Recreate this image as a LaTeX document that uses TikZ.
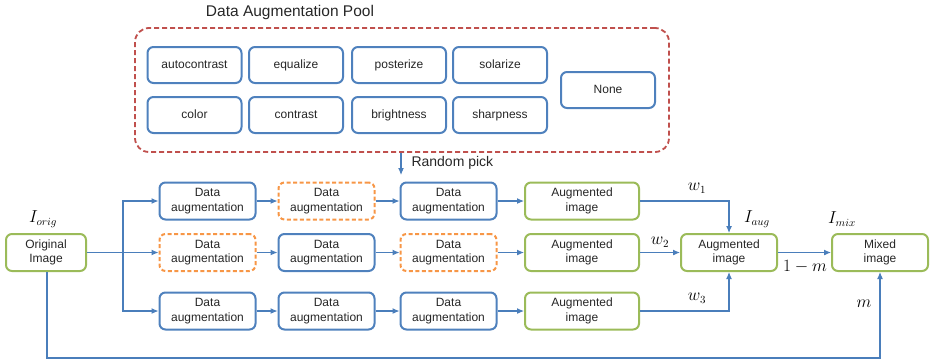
\documentclass[tikz,border=0pt]{standalone}
\usepackage{fontspec}
\setmainfont{Liberation Sans}
\usetikzlibrary{arrows.meta}
\definecolor{cblue}{HTML}{4F81BD}
\definecolor{cgreen}{HTML}{9BBB59}
\definecolor{corange}{HTML}{F79646}
\definecolor{cred}{HTML}{C0504D}
\definecolor{cline}{HTML}{4A7EBB}
\begin{document}
\begin{tikzpicture}[x=1pt,y=-1pt,
  box/.style={rounded corners=6pt,line width=2pt,align=center,font=\fontsize{12}{14.5}\selectfont,inner sep=0pt,text=black!85},
  bluebox/.style={box,draw=cblue},
  greenbox/.style={box,draw=cgreen},
  orangebox/.style={box,draw=corange,dash pattern=on 4pt off 2.5pt},
  poolbox/.style={bluebox,minimum width=94pt,minimum height=36pt,text height=1.6ex,text depth=0.4ex},
  dabox/.style={minimum width=96pt,minimum height=37pt},
  conn/.style={draw=cline,line width=1.1pt,-{Latex[length=7pt,width=6pt]}},
  plain/.style={draw=cline,line width=1.1pt},
  mathlbl/.style={font=\fontsize{16}{18}\selectfont}
]
\useasboundingbox (0,0) rectangle (936,362);
% pool
\node[draw=cred,line width=1.8pt,dash pattern=on 5pt off 3pt,rounded corners=14pt,minimum width=534pt,minimum height=124pt,inner sep=0pt] (pool) at (402,90) {};
\node[font=\fontsize{15.5}{17}\selectfont,text=black!85] (pooltitle) at (290,12) {Data Augmentation Pool};
\node[poolbox] (p1) at (194.5,65) {autocontrast};
\node[poolbox] (p2) at (296,65) {equalize};
\node[poolbox] (p3) at (399,65) {posterize};
\node[poolbox] (p4) at (500,65) {solarize};
\node[poolbox] (p5) at (194.5,115) {color};
\node[poolbox] (p6) at (296,115) {contrast};
\node[poolbox] (p7) at (399,115) {brightness};
\node[poolbox] (p8) at (500,115) {sharpness};
\node[poolbox] (p9) at (608,90) {None};
\coordinate (pick) at (401,175);
\draw[conn] (pool.south -| pick) -- (pick);
\node[anchor=west,font=\fontsize{14}{16}\selectfont,text=black!85] (picklbl) at (408,163) {Random pick};
% main
\node[greenbox,minimum width=80pt,minimum height=37pt] (orig) at (46,252.5) {Original\\Image};
\node[bluebox,dabox] (a11) at (207.5,201) {Data\\augmentation};
\node[orangebox,dabox] (a12) at (326.5,201) {Data\\augmentation};
\node[bluebox,dabox] (a13) at (448.5,201) {Data\\augmentation};
\node[orangebox,dabox] (a21) at (207.5,252.5) {Data\\augmentation};
\node[bluebox,dabox] (a22) at (326.5,252.5) {Data\\augmentation};
\node[orangebox,dabox] (a23) at (448.5,252.5) {Data\\augmentation};
\node[bluebox,dabox] (a31) at (207.5,311) {Data\\augmentation};
\node[bluebox,dabox] (a32) at (326.5,311) {Data\\augmentation};
\node[bluebox,dabox] (a33) at (448.5,311) {Data\\augmentation};
\node[greenbox,minimum width=114pt,minimum height=37pt] (g1) at (582,201) {Augmented\\image};
\node[greenbox,minimum width=114pt,minimum height=37pt] (g2) at (582,252.5) {Augmented\\image};
\node[greenbox,minimum width=114pt,minimum height=37pt] (g3) at (582,311) {Augmented\\image};
\node[greenbox,minimum width=96pt,minimum height=37pt] (aug) at (729,252.5) {Augmented\\image};
\node[greenbox,minimum width=96pt,minimum height=37pt] (mix) at (880,252.5) {Mixed\\image};
% fork
\coordinate (fork) at (123,252.5);
\draw[plain] (orig.east) -- (fork);
\draw[conn] (orig.east) -- (a21.west);
\draw[conn] (fork) |- (a11.west);
\draw[conn] (fork) |- (a31.west);
% rows
\draw[conn] (a11) -- (a12);
\draw[conn] (a12) -- (a13);
\draw[conn] (a13) -- (g1);
\draw[conn] (a21) -- (a22);
\draw[conn] (a22) -- (a23);
\draw[conn] (a23) -- (g2);
\draw[conn] (a31) -- (a32);
\draw[conn] (a32) -- (a33);
\draw[conn] (a33) -- (g3);
% merge
\draw[conn] (g1.east) -| (aug.north);
\draw[conn] (g2.east) -- (aug.west);
\draw[conn] (g3.east) -| (aug.south);
\draw[conn] (aug.east) -- (mix.west);
\coordinate (bl) at (47,358);
\draw[conn] (orig.south -| bl) -- (bl) -| (mix.south);
% labels
\node[mathlbl] (lorig) at (43,219) {$I_{orig}$};
\node[mathlbl] (lw1) at (697,188) {$w_1$};
\node[mathlbl] (lw2) at (660,242) {$w_2$};
\node[mathlbl] (lw3) at (697,298) {$w_3$};
\node[mathlbl] (laug) at (757,219) {$I_{aug}$};
\node[mathlbl] (lmix) at (842,219) {$I_{mix}$};
\node[mathlbl] (l1m) at (805,267) {$1-m$};
\node[mathlbl] (lm) at (864,304) {$m$};
\end{tikzpicture}
\end{document}
